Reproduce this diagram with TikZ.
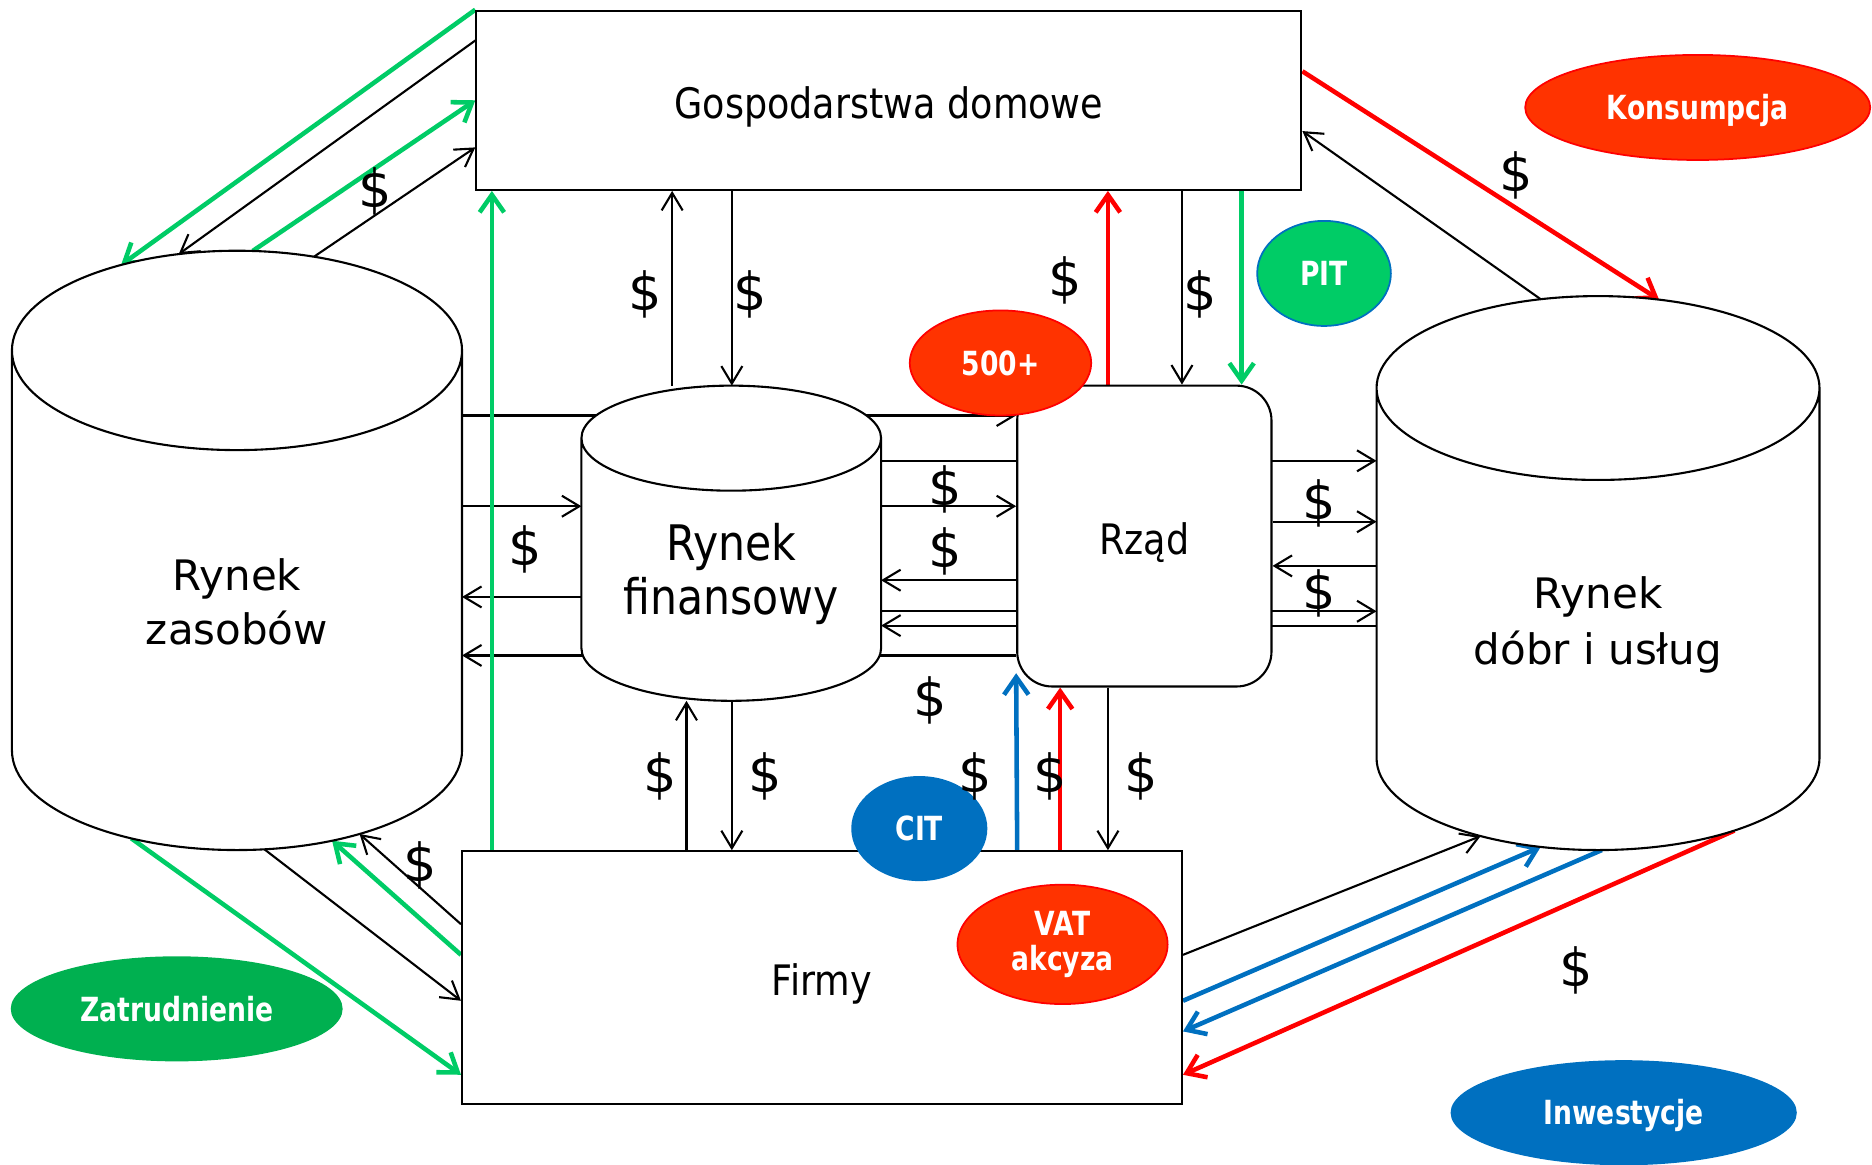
\documentclass[tikz,border=0pt]{standalone}
\usepackage{fontspec}
\setmainfont{DejaVu Sans}
\newfontfamily\narrowfont{DejaVu Sans}[FakeStretch=0.87]
\newfontfamily\tagfont{DejaVu Sans}[FakeStretch=0.8]
\usetikzlibrary{shapes.geometric, arrows.meta, calc}
\definecolor{myred}{RGB}{255,0,0}
\definecolor{myorange}{RGB}{255,51,0}
\definecolor{mygreen}{RGB}{0,204,102}
\definecolor{mydarkgreen}{RGB}{0,176,80}
\definecolor{myblue}{RGB}{0,112,192}
\newcommand{\pxl}{0.012cm}
% cylinder round a market node: #1 node, #2 x radius, #3 y radius of the cap
\newcommand{\cylbody}[3]{%
    \draw[frame, fill=white] (#1.north west) -- ($(#1.south west)+(0,-#3)$)
        arc[start angle=180, end angle=360, x radius=#2*\pxl, y radius=#3*\pxl]
        -- (#1.north east)
        (#1.north) ellipse[x radius=#2*\pxl, y radius=#3*\pxl];
}
\pgfdeclarelayer{back}
\pgfdeclarelayer{body}
\pgfsetlayers{back,body,main}
\tikzset{
    frame/.style={draw, line width=0.6pt},
    box/.style={frame, rectangle, fill=white, inner sep=0pt, text height=11.1pt, text depth=0.8pt,
        font=\fontsize{12}{14}\narrowfont},
    market/.style={rectangle, inner sep=0pt, outer sep=0pt, align=center},
    tag/.style={ellipse, inner sep=0pt, line width=0.5pt, text=white, align=center,
        font=\fontsize{9.5}{10}\tagfont\bfseries},
    oneline/.style={text height=7.2pt, text depth=0.2pt},
    flow/.style={line width=0.6pt, -{Straight Barb[length=5pt, width=6pt]}},
    bigflow/.style={line width=1.3pt, -{Straight Barb[length=5pt, width=7pt]}},
    dollar/.style={inner sep=0pt, font=\fontsize{15}{18}\selectfont}
}

\begin{document}
\begin{tikzpicture}[x=\pxl, y=-\pxl]
    \useasboundingbox (0,0) rectangle (1568,975);

    % sectors
    \node[box, minimum width=691*\pxl, minimum height=150*\pxl] (dom) at (744.5,84) {Gospodarstwa domowe};
    \node[box, minimum width=603*\pxl, minimum height=212*\pxl] (firmy) at (688.5,819) {Firmy};
    \node[box, rounded corners=10pt, minimum width=213*\pxl, minimum height=252*\pxl] (rzad) at (958.5,449) {Rząd};

    % markets
    \node[market, minimum width=377*\pxl, minimum height=418.5*\pxl, font=\fontsize{12}{15.4}\selectfont] (zas) at (198.5,502.75) {\rule{0pt}{10.2pt}Rynek\\zasobów};
    \node[market, minimum width=251*\pxl, minimum height=220*\pxl, font=\fontsize{14}{15.4}\narrowfont] (fin) at (612.5,477) {\rule{0pt}{13pt}Rynek\\finansowy};
    \node[market, minimum width=371*\pxl, minimum height=387*\pxl, font=\fontsize{12}{16.2}\selectfont] (dob) at (1338.5,518.5) {\rule{0pt}{12.4pt}Rynek\\dóbr i usług};
    \begin{pgfonlayer}{body}
        \cylbody{zas}{188.5}{83.5}
        \cylbody{fin}{125.5}{44}
        \cylbody{dob}{185.5}{77}
    \end{pgfonlayer}

    % flows named by colour
    \node[tag, oneline, fill=myorange, draw=myred, minimum width=289*\pxl, minimum height=88*\pxl] (kons) at (1422,90) {Konsumpcja};
    \node[tag, oneline, fill=mygreen, draw=myblue, minimum width=112*\pxl, minimum height=88*\pxl] (pit) at (1109,229) {PIT};
    \node[tag, oneline, fill=myorange, draw=myred, minimum width=152*\pxl, minimum height=88*\pxl] (plus) at (838,304) {500+};
    \node[tag, oneline, fill=myblue, minimum width=114*\pxl, minimum height=88*\pxl] (cit) at (770,694) {CIT};
    \node[tag, fill=myorange, draw=myred, minimum width=176*\pxl, minimum height=100*\pxl] (vat) at (890,791) {VAT\\akcyza};
    \node[tag, oneline, fill=mydarkgreen, minimum width=278*\pxl, minimum height=88*\pxl] (zatr) at (148,845) {Zatrudnienie};
    \node[tag, oneline, fill=myblue, minimum width=290*\pxl, minimum height=88*\pxl] (inw) at (1360,932) {Inwestycje};

    \foreach \x/\y [count=\i] in {314/160, 540/247, 628/247, 892/235, 1005/247, 1270/147,
            440/460, 792/410, 792/462, 1105/422, 1105/497, 779/587,
            553/650, 641/650, 817/650, 880/650, 956/650, 352/725, 1320/813}
        \node[dollar] (usd\i) at (\x,\y) {\$};

    \coordinate (zas cap) at (zas.north);
    \coordinate (zas base) at ($(zas.south)+(0,-83.5)$);
    \coordinate (fin rim) at ($(fin.north)+(0,-44)$);
    \coordinate (dob cap) at (dob.north);
    \coordinate (dob base) at ($(dob.south)+(0,-77)$);
    \foreach \y in {348,386,424,437,474,486,500,512,524,549}
        \coordinate (r\y) at (0,\y);
    \foreach \x in {412,563,575,613,852,888,928,990,1040}
        \coordinate (c\x) at (\x,0);

    \begin{pgfonlayer}{back}
        % horizontal flows
        \draw[flow] (zas.east |- r348) -- (rzad.west |- r348);
        \draw[flow] (zas.east |- r424) -- (fin.west |- r424);
        \draw[flow] (fin.west |- r500) -- (zas.east |- r500);
        \draw[flow] (rzad.west |- r549) -- (zas.east |- r549);
        \draw[flow] (fin.east |- r386) -- (dob.west |- r386);
        \draw[flow] (fin.east |- r424) -- (rzad.west |- r424);
        \draw[flow] (rzad.west |- r486) -- (fin.east |- r486);
        \draw[flow] (fin.east |- r512) -- (dob.west |- r512);
        \draw[flow] (dob.west |- r524) -- (fin.east |- r524);
        \draw[flow] (rzad.east |- r437) -- (dob.west |- r437);
        \draw[flow] (dob.west |- r474) -- (rzad.east |- r474);

        % vertical flows
        \draw[flow] (fin rim -| c563) -- (dom.south -| c563);
        \draw[flow] (dom.south -| c613) -- (fin rim -| c613);
        \draw[flow] (dom.south -| c990) -- (rzad.north -| c990);
        \draw[flow] (firmy.north -| c575) -- (fin.south -| c575);
        \draw[flow] (fin.south -| c613) -- (firmy.north -| c613);
        \draw[flow] (rzad.south -| c928) -- (firmy.north -| c928);
        \draw[bigflow, myred] (rzad.north -| c928) -- (dom.south -| c928);
        \draw[bigflow, mygreen] (dom.south -| c1040) -- (rzad.north -| c1040);
        \draw[bigflow, myblue] (firmy.north -| c852) -- ($(rzad.south west)+(0,-12)$);
        \draw[bigflow, myred] (firmy.north -| c888) -- (rzad.south -| c888);
        \draw[bigflow, mygreen] (firmy.north -| c412) -- (dom.south -| c412);

        % households and resources
        \draw[bigflow, mygreen] (dom.north west) -- ($(zas cap)+(-121:188.5 and 83.5)$);
        \draw[flow] ($(dom.north west)!.17!(dom.south west)$) -- ($(zas cap)+(-105:188.5 and 83.5)$);
        \draw[bigflow, mygreen] ($(zas cap)+(-86:188.5 and 83.5)$) -- (dom.west);
        \draw[flow] ($(zas cap)+(-70:188.5 and 83.5)$) -- ($(dom.north west)!.76!(dom.south west)$);

        % households and goods
        \draw[bigflow, myred] ($(dom.north east)!.34!(dom.south east)$) -- ($(dob cap)+(-74:185.5 and 77)$);
        \draw[flow] ($(dob cap)+(-105:185.5 and 77)$) -- ($(dom.north east)!.67!(dom.south east)$);

        % firms and resources
        \draw[bigflow, mygreen] ($(zas base)+(118:188.5 and 83.5)$) -- ($(firmy.north west)!.88!(firmy.south west)$);
        \draw[flow] ($(zas base)+(83:188.5 and 83.5)$) -- ($(firmy.north west)!.59!(firmy.south west)$);
        \draw[bigflow, mygreen] ($(firmy.north west)!.41!(firmy.south west)$) -- ($(zas base)+(65:188.5 and 83.5)$);
        \draw[flow] ($(firmy.north west)!.29!(firmy.south west)$) -- ($(zas base)+(57:188.5 and 83.5)$);

        % firms and goods
        \draw[flow] ($(firmy.north east)!.41!(firmy.south east)$) -- ($(dob base)+(122:185.5 and 77)$);
        \draw[bigflow, myblue] ($(firmy.north east)!.59!(firmy.south east)$) -- ($(dob base)+(105:185.5 and 77)$);
        \draw[bigflow, myblue] ($(dob base)+(89:185.5 and 77)$) -- ($(firmy.north east)!.71!(firmy.south east)$);
        \draw[bigflow, myred] ($(dob base)+(52:185.5 and 77)$) -- ($(firmy.north east)!.88!(firmy.south east)$);
    \end{pgfonlayer}
\end{tikzpicture}
\end{document}
